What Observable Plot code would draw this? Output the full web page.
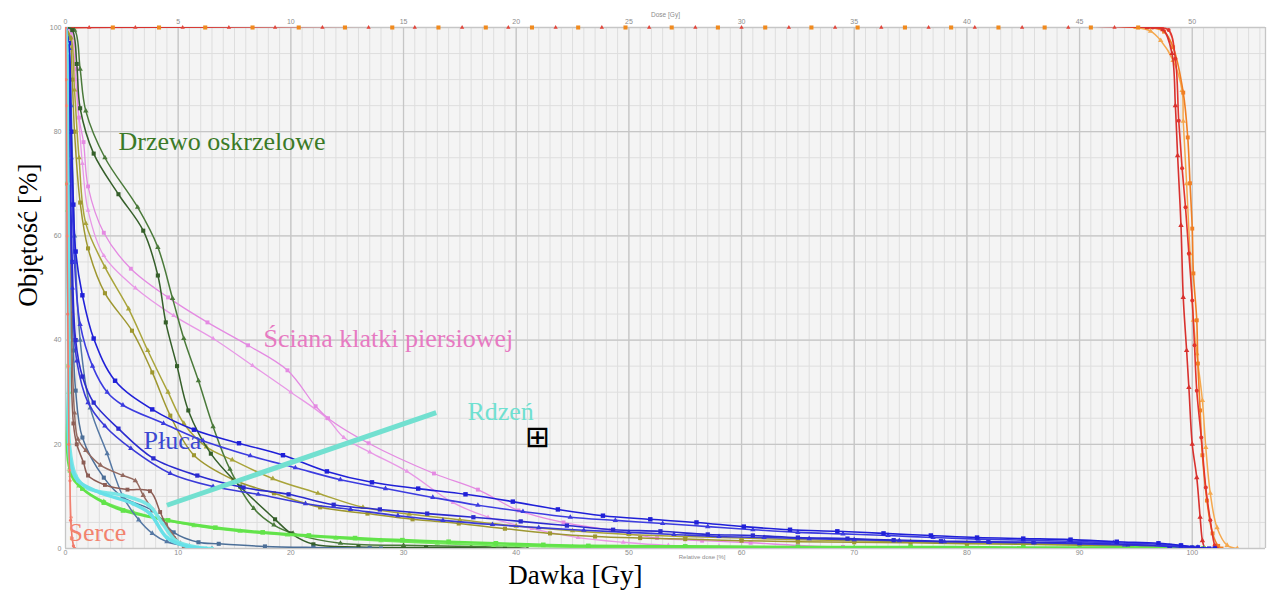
<!DOCTYPE html>
<html><head><meta charset="utf-8">
<script src="https://cdn.jsdelivr.net/npm/d3@7"></script>
<script src="https://cdn.jsdelivr.net/npm/@observablehq/plot@0.6"></script>
<style>body{margin:0;background:#fff}</style>
</head><body><div id="chart"></div>
<script>
// ---- Data (x = relative dose %, y = volume %) ----
const xTicks = [0,10,20,30,40,50,60,70,80,90,100];
const xTickLabelsTop = ["0","5","10","15","20","25","30","35","40","45","50"];
const yTicks = [0,20,40,60,80,100];

const ptv1 = [[0,100],[96,100],[97.4,99.6],[98.2,95],[98.5,85],[98.7,75.4],[99,62],[99.2,48.2],[99.5,38],[99.7,30.9],[100,20],[100.4,13.6],[100.7,6],[100.9,1.5],[101.1,0]];
const ptv2 = [[0,100],[96.5,100],[97.9,99.5],[98.5,94],[98.8,82.1],[99.1,73],[99.4,65.5],[99.7,56.6],[100,47.6],[100.2,39],[100.4,30.3],[100.8,21.3],[101.2,11.7],[101.6,5.4],[102,0.6],[102.2,0]];
const ptv3 = [[0,100],[96,100],[97.5,99.2],[98.3,96.2],[99.2,87.5],[99.6,78.9],[99.8,70.1],[100,61.4],[100.1,52.8],[100.4,43.8],[100.5,35.5],[100.7,26.5],[100.9,17.9],[101.3,9.2],[101.8,2.9],[102.3,0.5],[102.6,0]];
const ptv4 = [[0,100],[95,100],[96.3,99.3],[97.2,97.5],[98.3,93.7],[99.1,87.9],[99.2,82],[99.5,70],[99.8,56.6],[100.1,43.8],[100.4,37.4],[100.9,28.4],[101.2,19.4],[101.6,10.6],[102.2,4],[103.1,0.6],[104,0]];
const topMarkX = [4.2,8.3,12.4,16.6,20.7,24.8,29,33.1,37.3,41.4,45.5,49.7,53.8,57.9,62.1,66.2,70.3,74.5,78.6,82.8,86.9,91,95.2];
const topMarkX2 = [2.1,6.2,10.4,14.5,18.6,22.8,26.9,31,35.2,39.3,43.5,47.6,51.8,55.9,60,64.2,68.3,72.4,76.6,80.7,84.9,89,93.1];

const dg1 = [[0,100],[0.6,99.5],[1,93],[1.3,84.5],[2.5,75.8],[4.7,68],[6.9,61],[8.2,52.4],[8.9,43.4],[9.9,35],[10.9,26.5],[12.9,18.2],[15.5,11.9],[18.6,5.6],[20,2.9],[22,0.8],[26,0.3],[32,0.2],[38,0.1],[39,0]];
const dg2 = [[0,100],[0.8,99.5],[1.3,92],[1.8,84],[3.5,75],[6.4,65.5],[8.2,57.8],[9.5,48],[10.5,40.3],[11.8,32.2],[13.1,23.4],[14.6,15.2],[16.7,7.7],[18.5,4.5],[20.2,2.9],[24.4,1],[30,0.6],[36,0.4],[40,0.2],[41,0]];

const ol1 = [[0,100],[0.4,98],[0.6,90],[0.8,80],[1.3,66.4],[2,57.6],[3.5,49],[5.9,41.8],[7.7,33.8],[9.3,25.5],[11.4,17.9],[14.9,13.2],[18.5,10.6],[22.6,7.9],[26.8,6.7],[30.8,5.6],[34.9,4.8],[39,3.8],[43,2.9],[47,2.3],[51,2],[55,1.8],[60,1.5],[65,1.3],[70,1.2],[75,1.1],[80,0.9],[85,0.8],[90,0.6],[95,0.4],[99,0.2],[101,0]];
const ol2 = [[0,100],[0.5,98],[0.8,88],[1.2,75],[1.8,62.4],[3.5,54],[5.6,46],[7.3,38],[9.1,30],[10.5,24],[12.5,19.5],[14.8,17],[18.4,13.4],[22.4,10.6],[26.4,7.9],[30.5,6.6],[35,5.5],[40,4.3],[45,3.4],[50,2.7],[55,2.3],[60,2],[65,1.7],[70,1.5],[75,1.3],[80,1.1],[85,1],[90,0.8],[95,0.6],[99,0.3],[101,0]];

const pk1 = [[0,100],[0.6,99],[1,92],[1.2,82.7],[1.6,78],[2,69.5],[3.4,60.6],[5.8,53.7],[9.1,48.2],[12.6,43.4],[16.2,39],[19.7,34.2],[22.2,27.3],[23.3,25],[26.9,20.2],[32.7,14.4],[36.6,11.3],[40.2,7.3],[44.2,5],[48.4,3.5],[52.5,2],[56.5,1.5],[60.8,1.1],[65,0.6],[69,0.3],[75,0.1],[80,0]];
const pk2 = [[0,100],[0.5,99],[0.9,90],[1.5,73.9],[2,64.9],[3.4,56.2],[6.2,50],[9.6,44.7],[13.1,40.3],[16.6,35.1],[20,30],[23.2,25],[24.7,21.3],[27,18.5],[30.3,14.8],[34.4,8.8],[37.5,6],[41.4,3.8],[45.5,2.1],[49.5,1.2],[53.5,0.6],[58,0.4],[65,0.3],[75,0.2],[85,0.1],[98,0]];

const bu1 = [[0,100],[0.3,97],[0.5,80],[0.7,66],[0.9,57],[1.5,48.6],[2.5,40.3],[4.4,32.2],[7.7,26.7],[11.4,22.8],[15.4,20.2],[19.3,17.9],[23.2,14.8],[27.2,12.7],[31.3,11.5],[35.5,10.4],[39.7,9],[43.7,7.5],[47.7,6.3],[51.9,5.6],[56,5],[60.2,4.2],[64.3,3.6],[68.5,3.3],[72.6,2.9],[76.8,2.5],[80.9,2.1],[85,1.9],[89.2,1.7],[93.3,1.3],[97,1],[99,0.6],[100.5,0.2],[102,0]];
const bu2 = [[0,100],[0.3,96],[0.5,75],[0.8,55],[1.3,43],[2.4,35],[3.7,30],[5.1,27.5],[8.7,24],[12.2,20.7],[16.4,17.8],[20.4,15.5],[24.4,13.2],[28.4,11.5],[32.6,9.8],[36.6,8.3],[40.6,7.1],[44.8,6],[48.8,5.4],[53,4.8],[57,4.2],[61,3.6],[65,3.1],[69,2.8],[73,2.5],[77,2.1],[81,1.8],[85,1.6],[89,1.4],[93,1.1],[97,0.8],[99,0.5],[100.5,0.2],[102,0]];
const bl1 = [[0,100],[0.2,97],[0.4,75],[0.6,55],[0.9,40],[1.5,33],[2.5,28],[4.7,23],[7.8,17.3],[11.7,14],[15.8,11.7],[19.8,10.4],[23.8,8.4],[27.9,7.5],[32.1,6.7],[36.2,6],[40.4,5.2],[44.5,4.4],[48.6,3.6],[52.8,3.3],[57,2.7],[61,2.5],[65,2.1],[69.4,1.9],[73.5,1.6],[77.7,1.4],[81.9,1.3],[85.9,1.2],[90,1.1],[94.3,0.8],[98,0.5],[100,0.2],[101.5,0]];
const bl2 = [[0,100],[0.2,97],[0.4,70],[0.6,50],[1,36],[2,28],[3.5,23.5],[5.8,19.2],[9.3,14.4],[13.1,11.9],[17.1,10.4],[21.3,8.6],[25.3,7.5],[29.5,6.3],[33.5,5.4],[37.9,4.6],[42,4],[46,3.5],[50,3.1],[54,2.7],[58,2.3],[62,2.1],[66,1.9],[70,1.7],[74,1.5],[78,1.3],[82,1.2],[86,1.1],[90,0.9],[94,0.7],[98,0.4],[100,0.1],[101,0]];

const sb1 = [[0,100],[0.2,97],[0.3,80],[0.5,55],[0.7,38],[0.9,30.3],[1.5,21.3],[3.4,13.6],[5.1,9.8],[7.7,7.3],[9.6,3.1],[11.8,1.2],[13.6,0.9],[17.7,0.4],[22,0.2],[27,0.1],[28,0]];
const sb2 = [[0,100],[0.3,96],[0.5,85],[0.8,60],[1.3,40],[2.2,27],[3.7,18.2],[5.1,10],[6.5,5.5],[7.7,2.9],[9,1.3],[11,0.4],[13,0]];

const br1 = [[0,100],[0.2,96],[0.3,70],[0.45,40],[0.7,24],[1,20],[1.6,16.5],[2,14],[3.5,12.2],[5.5,11.3],[7.5,11],[8.4,7],[8.9,4.6],[9.6,2],[10.5,0.5],[11.5,0]];
const br2 = [[0,100],[0.2,96],[0.3,75],[0.5,45],[0.8,26],[1.1,21],[1.8,18.8],[3.1,16],[5.1,14],[6.2,13],[6.9,10.2],[7.8,7.3],[8.9,4.6],[10.2,1],[11,0]];

const cy1 = [[0,100],[0.1,97],[0.15,80],[0.2,60],[0.3,35],[0.4,17],[1.1,13],[3.1,10.7],[6,8.6],[7.5,6.7],[9,2.1],[10.8,0.4],[12.5,0]];
const cy2 = [[0,100],[0.1,95],[0.2,70],[0.3,40],[0.35,20],[0.9,14],[2,11.5],[5.1,10.2],[7.4,8.3],[8.6,4.8],[9.8,1.5],[11.8,0.2],[13,0]];

const gr1 = [[0,100],[0.1,98],[0.2,70],[0.3,35],[0.4,15],[1.5,11.5],[3.4,8.8],[5.1,7.3],[9.1,5.4],[13.3,4],[17.5,3.1],[21.6,2.5],[25.7,2],[29.9,1.6],[34,1.3],[38.2,1],[42.4,0.7],[46.4,0.5],[55,0.4],[65,0.3],[75,0.3],[85,0.2],[95,0.2],[100,0.1],[101,0]];
const gr2 = [[0,100],[0.1,97],[0.2,65],[0.3,30],[0.5,14],[1.2,12],[3.4,9],[6,7],[11.4,4.4],[15.5,3.3],[19.7,2.6],[24,2],[28,1.5],[33,1],[38,0.6],[45,0.3],[55,0.2],[70,0.15],[85,0.1],[100,0.05],[101,0]];

const se1 = [[0,100],[0.05,90],[0.1,70],[0.2,45],[0.3,20],[0.4,13],[0.45,5.4],[0.7,0.5],[0.8,0]];
const se2 = [[0,100],[0.1,85],[0.15,60],[0.25,35],[0.35,15],[0.5,6],[0.6,2],[0.8,0]];

const labels = ["Drzewo oskrzelowe","Ściana klatki piersiowej","Rdzeń","Płuca","Serce"];
const labelX = [4.7, 17.57, 35.67, 6.92, 0.27];
const labelY = [78.1, 40.3, 26.3, 20.7, 3.1];
const pointer = [[9, 8.3],[32.9, 26.1]];
const crossMark = [41.9, 21.3];

// ---- styles ----
const series = [
  {pts: ptv4, color:"#f5a84e", sym:"triangle", w:1.5, r:2},
  {pts: ptv3, color:"#f07f24", sym:"square", w:1.6, r:2.2},
  {pts: ptv2, color:"#e2352d", sym:"circle", w:1.6, r:2},
  {pts: ptv1, color:"#d8312e", sym:"triangle", w:1.6, r:2},
  {pts: pk2, color:"#e898e6", sym:"triangle", w:1.3, r:1.8},
  {pts: pk1, color:"#e48ae2", sym:"square", w:1.3, r:2.2},
  {pts: ol2, color:"#a9a43a", sym:"triangle", w:1.5, r:2},
  {pts: ol1, color:"#9e9730", sym:"square", w:1.5, r:2.3},
  {pts: dg2, color:"#4a7a3a", sym:"triangle", w:1.5, r:2},
  {pts: dg1, color:"#355f2a", sym:"square", w:1.5, r:2.3},
  {pts: gr2, color:"#70e858", sym:"triangle", w:2, r:2},
  {pts: gr1, color:"#62e34a", sym:"square", w:2.6, r:2.6},
  {pts: sb1, color:"#4c6f98", sym:"square", w:1.5, r:2.3},
  {pts: sb2, color:"#5578a4", sym:"triangle", w:1.5, r:2},
  {pts: br1, color:"#8c5d55", sym:"square", w:1.5, r:2.2},
  {pts: br2, color:"#946a60", sym:"triangle", w:1.5, r:2},
  {pts: bl2, color:"#3a3ad8", sym:"triangle", w:1.6, r:2},
  {pts: bl1, color:"#2b2bcf", sym:"square", w:1.6, r:2.4},
  {pts: bu2, color:"#3c3ce0", sym:"triangle", w:1.6, r:2},
  {pts: bu1, color:"#2020d8", sym:"square", w:1.6, r:2.5},
  {pts: cy2, color:"#7ae6e6", sym:"circle", w:3.5, r:2},
  {pts: cy1, color:"#68e0e8", sym:"circle", w:3.5, r:2},
  {pts: se2, color:"#f39a8a", sym:"circle", w:1.3, r:1.6},
  {pts: se1, color:"#f07a6a", sym:"circle", w:1.3, r:1.6}
];
const labelColors = ["#3b7a27","#e77ac2","#6fe0d0","#3b48d2","#f2836e"];

const X = d => d[0], Y = d => d[1];
const curveMarks = series.flatMap(s => [
  Plot.line(s.pts, {x:X, y:Y, stroke:s.color, strokeWidth:s.w, curve:"catmull-rom", clip:true}),
  Plot.dot(s.pts, {x:X, y:Y, symbol:s.sym, r:s.r, fill:s.color, stroke:"none", clip:true})
]);

const serif = "'Liberation Serif','Times New Roman',serif";
const chart = Plot.plot({
  width:1275, height:590,
  marginLeft:65, marginRight:10, marginTop:27, marginBottom:42,
  style:{fontFamily:"'Liberation Sans',Arial,sans-serif", background:"#fff"},
  x:{domain:[0,106.5]},
  y:{domain:[0,100]},
  marks:[
    Plot.frame({fill:"#f4f4f4", stroke:"none"}),
    Plot.gridX(d3.range(0,107,1), {stroke:"#dedede", strokeOpacity:1, strokeWidth:1}),
    Plot.gridY(d3.range(0,101,5), {stroke:"#dedede", strokeOpacity:1, strokeWidth:1}),
    Plot.gridX(xTicks, {stroke:"#c6c6c6", strokeOpacity:1, strokeWidth:1.3}),
    Plot.gridY(yTicks, {stroke:"#c6c6c6", strokeOpacity:1, strokeWidth:1.3}),
    Plot.ruleX([106.5], {stroke:"#c6c6c6", strokeWidth:1.3}),
    Plot.axisX(xTicks, {anchor:"bottom", tickSize:0, tickPadding:2, fontSize:7, color:"#8c8c8c", label:null}),
    Plot.axisX(xTicks, {anchor:"top", tickSize:0, tickPadding:4, fontSize:7, color:"#8c8c8c", label:null,
      tickFormat: d => xTickLabelsTop[xTicks.indexOf(d)]}),
    Plot.axisY(yTicks, {anchor:"left", tickSize:0, tickPadding:4, fontSize:7, color:"#8c8c8c", label:null}),
    Plot.text(["Dose [Gy]"], {frameAnchor:"top", dy:-15, fontSize:6.5, fill:"#8c8c8c"}),
    Plot.text(["Relative dose [%]"], {frameAnchor:"bottom", x:()=>56.5, dy:10, fontSize:6, fill:"#8c8c8c"}),
    ...curveMarks,
    Plot.dot(topMarkX, {x:d=>d, y:()=>100, symbol:"square", r:2.3, fill:"#f08a1e"}),
    Plot.dot(topMarkX2, {x:d=>d, y:()=>100, symbol:"triangle", r:1.6, fill:"#e2453a"}),
    Plot.link([pointer], {x1:d=>d[0][0], y1:d=>d[0][1], x2:d=>d[1][0], y2:d=>d[1][1], stroke:"#72e0d0", strokeWidth:5}),
    Plot.text(labels, {x:(d,i)=>labelX[i], y:(d,i)=>labelY[i], text:d=>d, fill:(d,i)=>labelColors[i],
      fontSize:26, fontFamily:serif, textAnchor:"start"}),
    Plot.text([crossMark], {x:d=>d[0], y:d=>d[1], text:()=>"⊞", fontSize:30, fontFamily:"DejaVu Sans", fill:"#000"}),
    Plot.text(["Dawka [Gy]"], {x:()=>45.25, frameAnchor:"bottom", lineAnchor:"bottom", dy:35, fontSize:27, fontFamily:serif, fill:"#000"}),
    Plot.text(["Objętość [%]"], {y:()=>46.4, frameAnchor:"left", dx:-37, rotate:-90, fontSize:27, fontFamily:serif, fill:"#000"})
  ]
});
document.getElementById("chart").appendChild(chart);
</script>
</body></html>
